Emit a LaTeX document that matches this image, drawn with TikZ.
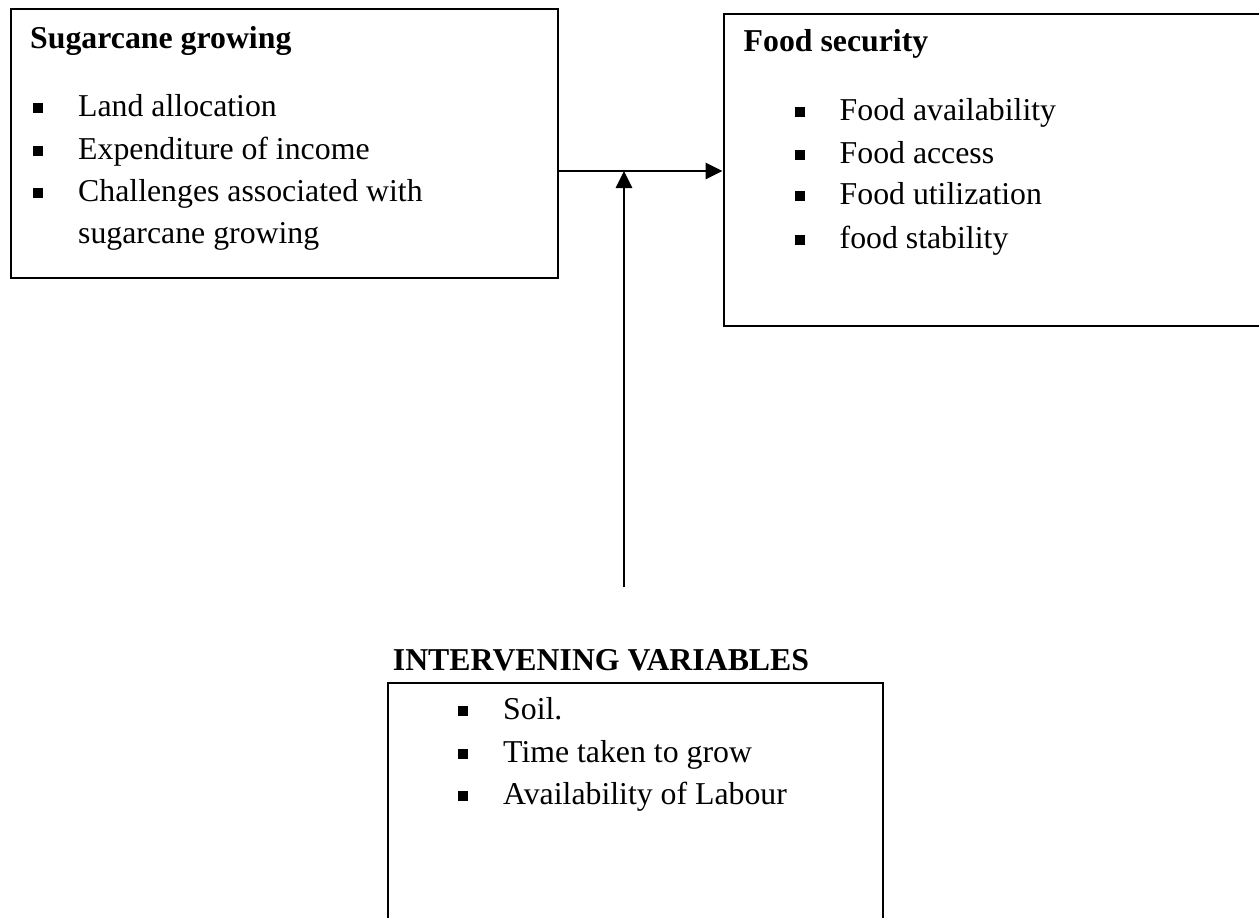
\documentclass[tikz,border=0pt]{standalone}
\usepackage{fontspec}
\setmainfont{Liberation Serif}
\usetikzlibrary{arrows.meta}
\newcommand{\sqbul}{\rule[3.5pt]{10pt}{10pt}\hspace{35pt}}
\tikzset{
  boxnode/.style={draw, line width=2.2pt, anchor=north west, inner sep=0pt},
  titletext/.style={anchor=base west, inner sep=0pt, font=\fontsize{31.8pt}{42pt}\selectfont\bfseries},
  itemtext/.style={anchor=base west, inner sep=0pt, font=\fontsize{31.8pt}{42pt}\selectfont},
  flow/.style={line width=2.8pt, -{Triangle[length=17pt,width=16pt]}}
}
\begin{document}
\begin{tikzpicture}[x=1pt,y=-1pt]
\clip (0,0) rectangle (1259,918);
\fill[white] (0,0) rectangle (1259,918);
% boxes
\node[boxnode, minimum width=547.5pt, minimum height=269pt] (box1) at (9.5,8) {};
\node[boxnode, minimum width=580pt, minimum height=312.5pt] (box2) at (722.5,12.7) {};
\node[boxnode, minimum width=495pt, minimum height=300pt] (box3) at (387,681.7) {};
% box 1 text
\node[titletext] (t1) at (30,48) {Sugarcane growing};
\node[itemtext] (a1) at (33,116.7) {\sqbul Land allocation};
\node[itemtext] (a2) at (33,159.5) {\sqbul Expenditure of income};
\node[itemtext] (a3) at (33,201.7) {\sqbul Challenges associated with};
\node[itemtext] (a4) at (78,243.5) {sugarcane growing};
% box 2 text
\node[titletext] (t2) at (743.5,51.7) {Food security};
\node[itemtext] (b1) at (794.5,120) {\sqbul Food availability};
\node[itemtext] (b2) at (794.5,163) {\sqbul Food access};
\node[itemtext] (b3) at (794.5,204.5) {\sqbul Food utilization};
\node[itemtext] (b4) at (794.5,248) {\sqbul food stability};
% box 3 text
\node[titletext] (t3) at (392.7,670) {INTERVENING VARIABLES};
\node[itemtext] (c1) at (458,719) {\sqbul Soil.};
\node[itemtext] (c2) at (458,762) {\sqbul Time taken to grow};
\node[itemtext] (c3) at (458,804) {\sqbul Availability of Labour};
% connectors
\coordinate (j) at (624,171);
\coordinate (vstart) at (624,587.3);
\draw[flow] (box1.east |- j) -- (box2.west |- j);
\draw[flow] (vstart) -- (j);
\end{tikzpicture}
\end{document}
